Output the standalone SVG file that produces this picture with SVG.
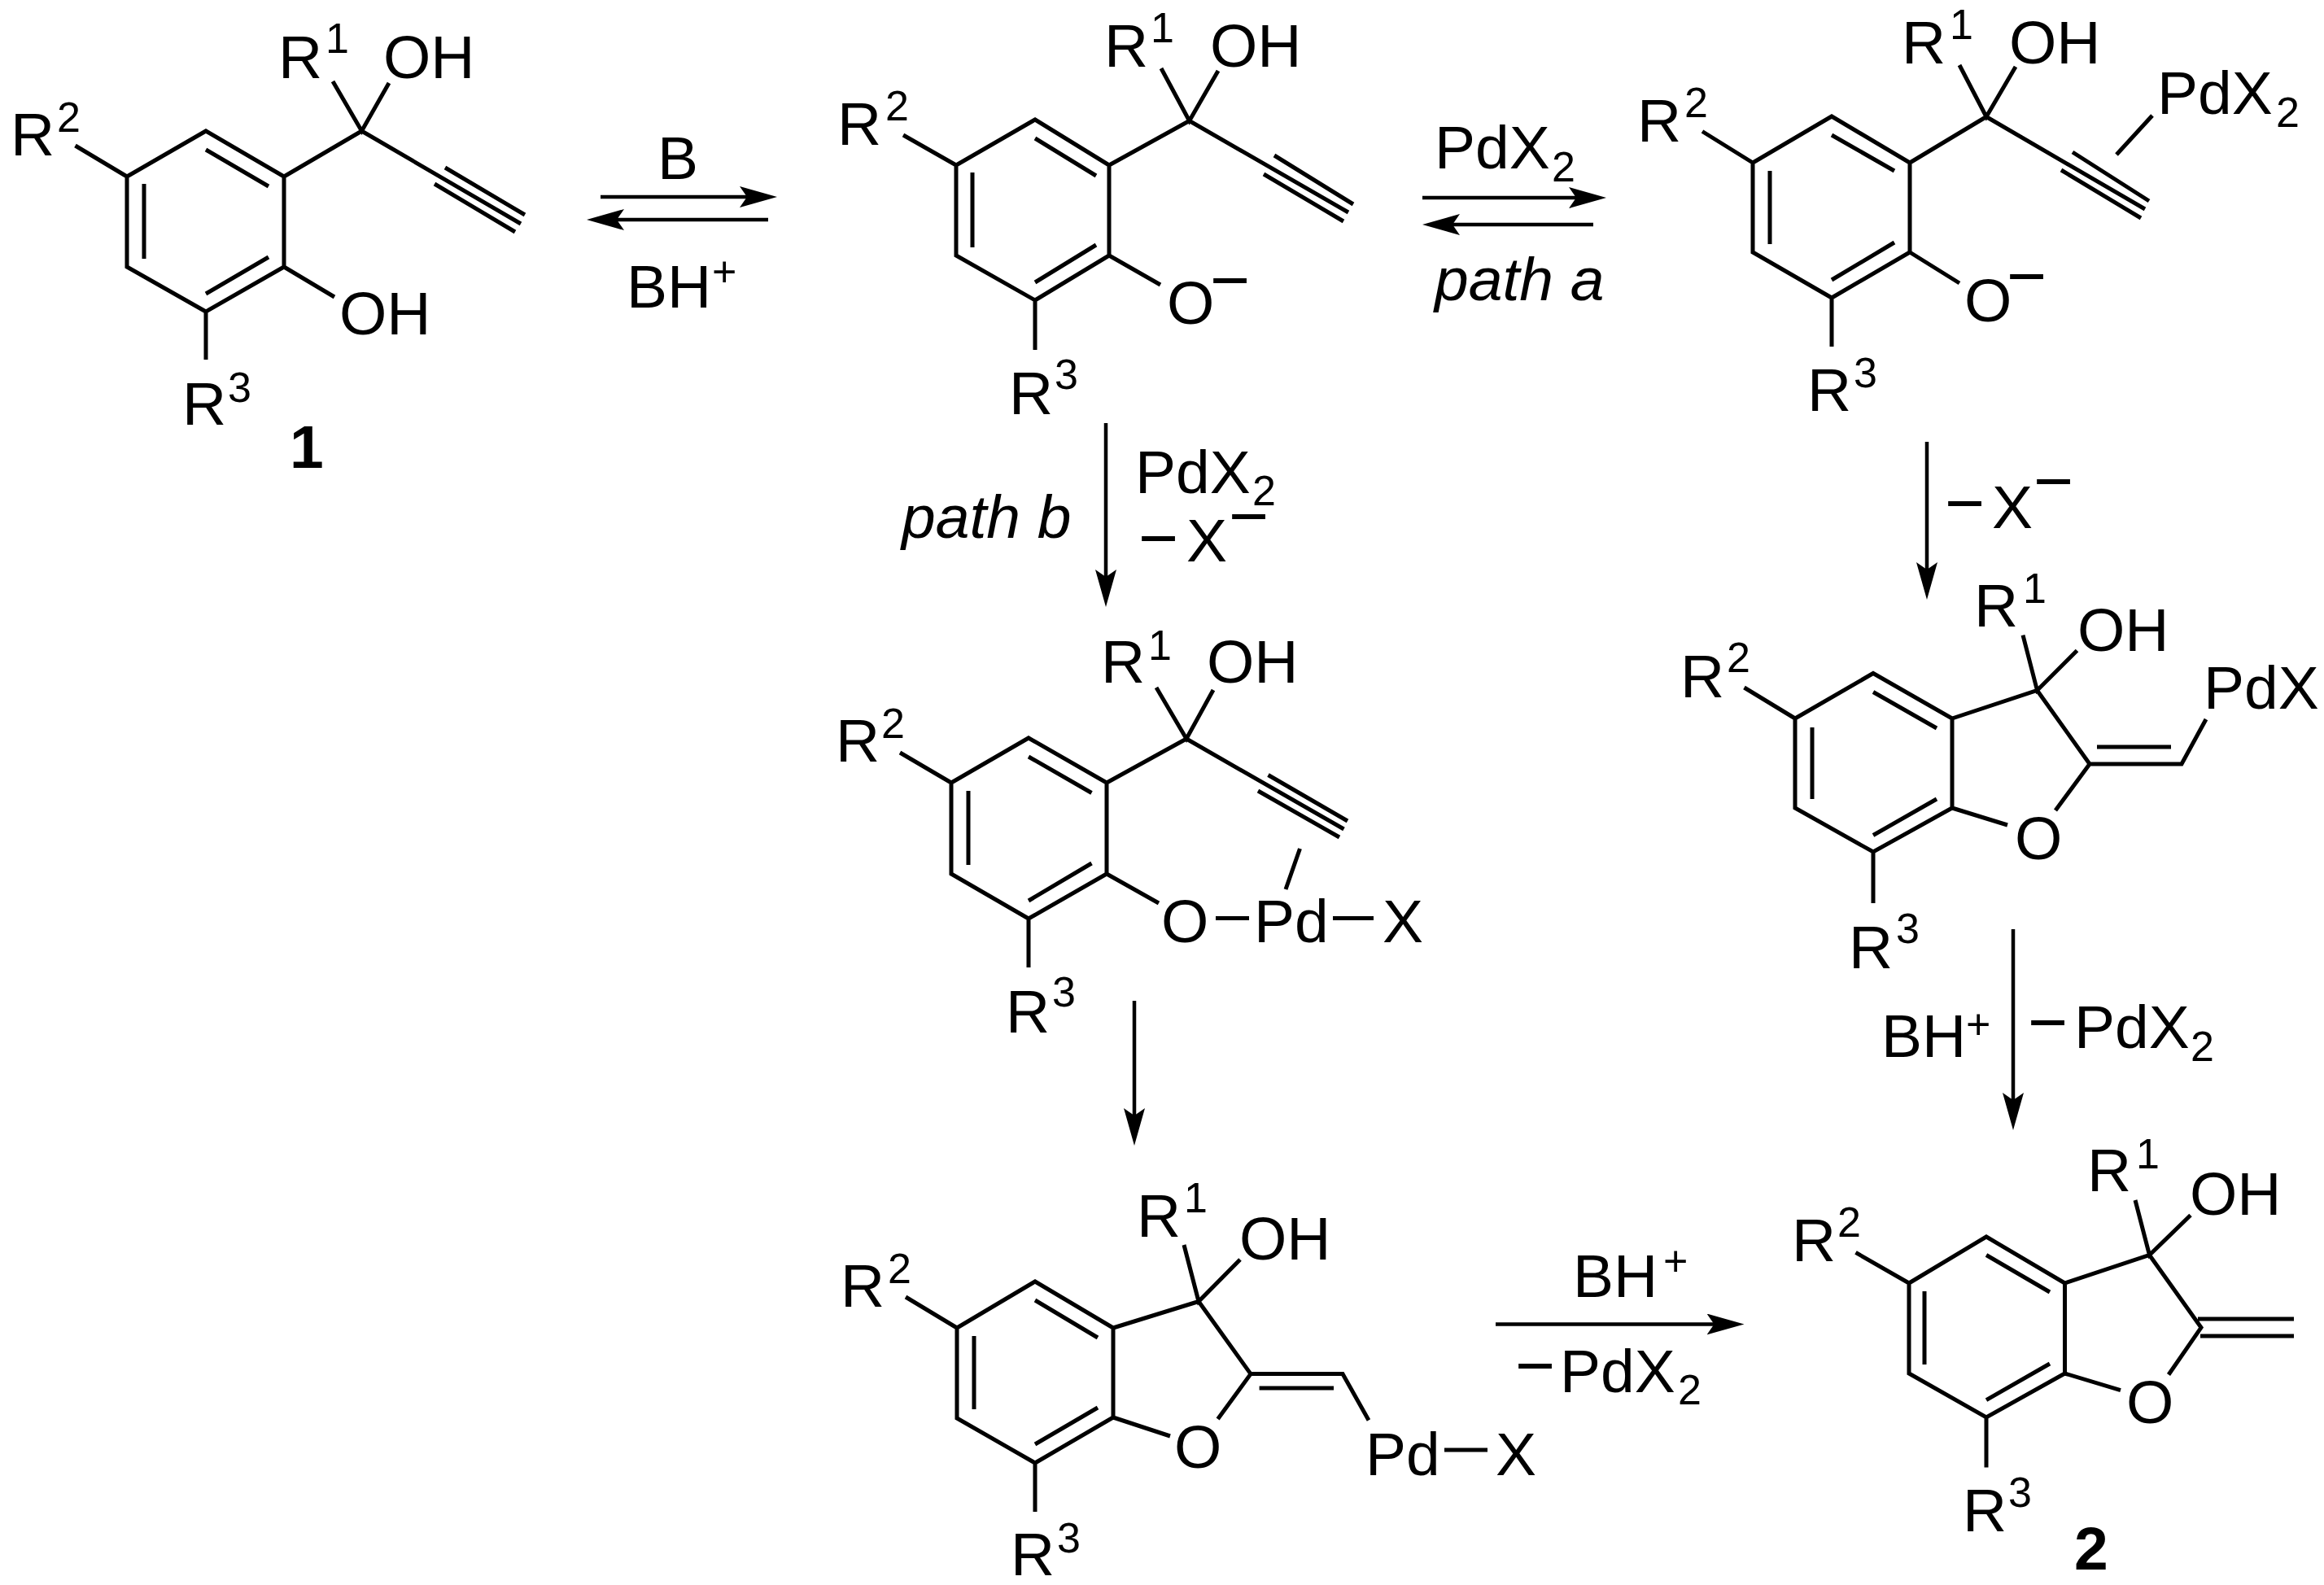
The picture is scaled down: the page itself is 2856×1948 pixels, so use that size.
<svg xmlns="http://www.w3.org/2000/svg" width="2856" height="1948" viewBox="0 0 2856 1948">
<style>
text{font-family:"Liberation Sans",Arial,sans-serif;font-size:75px;fill:#000}
.s{font-size:52px}
.i{font-style:italic}
.b{font-weight:bold}
.m{font-size:84px}
.bond{fill:none;stroke:#000;stroke-width:5;stroke-linejoin:miter;stroke-linecap:butt}
.arrow{fill:none;stroke:#000;stroke-width:4.5;marker-end:url(#head)}
</style>
<defs>
<marker id="head" markerUnits="userSpaceOnUse" viewBox="0 0 46 26" refX="15" refY="13" markerWidth="46" markerHeight="26" orient="auto">
<path d="M46 13L0 0L9 13L0 26Z" fill="#000"/>
</marker>
</defs>
<rect width="2856" height="1948" fill="#fff"/>
<g id="connectors">
<line class="arrow" x1="738" y1="242" x2="924" y2="242"/>
<line class="arrow" x1="944" y1="270" x2="752" y2="270"/>
<line class="arrow" x1="1748" y1="243" x2="1943" y2="243"/>
<line class="arrow" x1="1958" y1="276" x2="1779" y2="276"/>
<line class="arrow" x1="1359" y1="520" x2="1359" y2="715"/>
<line class="arrow" x1="2368" y1="543" x2="2368" y2="706"/>
<line class="arrow" x1="1394" y1="1230" x2="1394" y2="1377"/>
<line class="arrow" x1="2474" y1="1142" x2="2474" y2="1358"/>
<line class="arrow" x1="1838" y1="1627.5" x2="2112.5" y2="1627.5"/>
</g>
<g id="labels">
<text x="808" y="220">B</text>
<text x="770" y="378">BH<tspan class="s" x="875" y="352">+</tspan></text>
<text x="1763" y="207">PdX<tspan class="s" x="1907" y="223">2</tspan></text>
<text class="i" x="1763" y="369">path a</text>
<text class="i" x="1108" y="661">path b</text>
<text x="1395" y="606">PdX<tspan class="s" x="1539" y="621">2</tspan></text>
<text class="m" x="1399" y="690">−</text><text x="1458" y="690">X</text><text class="m" x="1510" y="663">−</text>
<text class="m" x="2390" y="647">−</text><text x="2448" y="649">X</text><text class="m" x="2499" y="620">−</text>
<text x="2312" y="1299">BH<tspan class="s" x="2416" y="1277">+</tspan></text>
<text class="m" x="2492" y="1285">−</text><text x="2549" y="1288">PdX<tspan class="s" x="2692" y="1304">2</tspan></text>
<text x="1933" y="1594">BH<tspan class="s" x="2044" y="1568">+</tspan></text>
<text class="m" x="1862" y="1707">−</text><text x="1917" y="1711">PdX<tspan class="s" x="2062" y="1726">2</tspan></text>
</g>
<g id="compound-1">
<path class="bond" d="M253 161L349 217V328L253 383L156 328V217ZM253 184L330 229M177 226V318M253 361L330 316M92.5 179L156 217M349 217L444.5 161M409 100L444.5 161L478 102M444.5 161L640 275M547 206L645 264M534 226L633 285M349 328L411 365M253 383V442"/>
<text x="342" y="96">R<tspan class="s" x="400" y="65">1</tspan></text>
<text x="471" y="96">OH</text>
<text x="13" y="191">R<tspan class="s" x="70" y="162">2</tspan></text>
<text x="417" y="411">OH</text>
<text x="224" y="522">R<tspan class="s" x="280" y="494">3</tspan></text>
<text class="b" x="356" y="575">1</text>
</g>
<g id="phenoxide">
<path class="bond" d="M1272 147L1363 203V314L1272 369L1175 314V203ZM1272 170L1347 216M1195 212V304M1272 347L1347 301M1110 166L1175 203M1363 203L1461.6 148.5M1427 84L1461.6 148.5L1497 87M1461.6 148.5L1657 261M1566 191L1663 251M1553 214L1651 272M1363 314L1426 350M1272 369V430"/>
<text x="1357" y="82">R<tspan class="s" x="1414" y="52">1</tspan></text>
<text x="1487" y="82">OH</text>
<text x="1029" y="178">R<tspan class="s" x="1088" y="148">2</tspan></text>
<text x="1434" y="398">O</text><text class="m" x="1487" y="373">−</text>
<text x="1240" y="509">R<tspan class="s" x="1296" y="478">3</tspan></text>
</g>
<g id="alkyne-complex">
<path class="bond" d="M2251 143L2347 200V310L2251 366L2154 310V200ZM2251 166L2328 210M2175 210V300M2251 344L2328 298M2092 161.5L2154 200M2347 200L2441 143.5M2408 80L2441 143.5L2477 82M2441 143.5L2636 257M2547 187L2641 247M2533 209L2631 268M2645 142L2601 190M2347 310L2408 348M2251 366V426"/>
<text x="2337" y="78">R<tspan class="s" x="2396" y="48">1</tspan></text>
<text x="2469" y="78">OH</text>
<text x="2012" y="174">R<tspan class="s" x="2070" y="144">2</tspan></text>
<text x="2651" y="140">PdX<tspan class="s" x="2797" y="156">2</tspan></text>
<text x="2414" y="395">O</text><text class="m" x="2466" y="368">−</text>
<text x="2221" y="505">R<tspan class="s" x="2278" y="476">3</tspan></text>
</g>
<g id="pd-phenoxide">
<path class="bond" d="M1264 907L1360 962V1074L1264 1129L1169 1074V962ZM1264 930L1341.5 974.5M1190 972V1063M1264 1107L1341.5 1061M1106 925L1169 962M1360 962L1458 908M1421 845L1458 908L1491 848M1458 908L1651.5 1019M1558.5 952.5L1656 1009M1546 972L1646 1029M1360 1074L1424 1110M1494 1128.5H1535M1638 1128.5H1688M1597.5 1043L1580 1093M1264 1129V1189"/>
<text x="1353" y="839">R<tspan class="s" x="1411" y="811">1</tspan></text>
<text x="1483" y="839">OH</text>
<text x="1027" y="936">R<tspan class="s" x="1083" y="907">2</tspan></text>
<text x="1427" y="1158">O</text>
<text x="1541" y="1158">Pd</text>
<text x="1699" y="1158">X</text>
<text x="1236" y="1269">R<tspan class="s" x="1293" y="1237">3</tspan></text>
</g>
<g id="vinyl-palladium-a">
<path class="bond" d="M2302 827.5L2399 883V993L2302 1047L2206 993V883ZM2302 850.5L2380 895M2227 894V982M2302 1026.5L2380 982M2143.5 845L2206 883M2399 883L2503.5 848.5L2568 939H2681L2711 884M2486 780.6L2503.5 848.5L2552.5 799.5M2577 918H2668M2568 939L2526 996M2399 993L2467 1014M2302 1047V1110"/>
<text x="2426" y="770">R<tspan class="s" x="2486" y="741">1</tspan></text>
<text x="2553" y="799.5">OH</text>
<text x="2065" y="857">R<tspan class="s" x="2122" y="826">2</tspan></text>
<text x="2708" y="871">PdX</text>
<text x="2476" y="1056">O</text>
<text x="2272" y="1190">R<tspan class="s" x="2330" y="1159">3</tspan></text>
</g>
<g id="vinyl-palladium-b">
<path class="bond" d="M1272 1575L1368 1632V1742L1272 1798L1176 1743V1632ZM1272 1598L1349 1644M1197 1642V1732M1272 1775L1349 1730M1113 1594L1176 1632M1368 1632L1473 1599.5L1537 1688.6H1650L1682 1745.5M1455 1530L1473 1599.5L1524 1548M1547.6 1706H1639M1537 1688.6L1496.6 1744M1368 1742L1438 1765M1775 1782H1828M1272 1798V1858"/>
<text x="1397" y="1520">R<tspan class="s" x="1455" y="1490">1</tspan></text>
<text x="1523" y="1548">OH</text>
<text x="1033" y="1606">R<tspan class="s" x="1091" y="1577">2</tspan></text>
<text x="1443" y="1804">O</text>
<text x="1678" y="1813">Pd</text>
<text x="1838" y="1813">X</text>
<text x="1242" y="1936">R<tspan class="s" x="1299" y="1908">3</tspan></text>
</g>
<g id="compound-2">
<path class="bond" d="M2441 1520L2537.5 1577V1688L2441 1742L2346 1688V1577ZM2441 1542.5L2519 1588M2365 1587V1677M2441 1720.6L2519 1676M2280.5 1539.4L2346 1577M2537.5 1577L2641.5 1542.5L2705 1631.6L2665 1689.5M2624 1475L2641.5 1542.5L2692 1493.5M2537.5 1688L2606 1708.6M2701 1621H2819M2704 1642H2819M2441 1742V1803.5"/>
<text x="2565" y="1464">R<tspan class="s" x="2625" y="1436">1</tspan></text>
<text x="2691" y="1493">OH</text>
<text x="2202" y="1550">R<tspan class="s" x="2258" y="1520">2</tspan></text>
<text x="2613" y="1748.6">O</text>
<text x="2412" y="1882">R<tspan class="s" x="2468" y="1852">3</tspan></text>
<text class="b" x="2549" y="1929">2</text>
</g>
</svg>
